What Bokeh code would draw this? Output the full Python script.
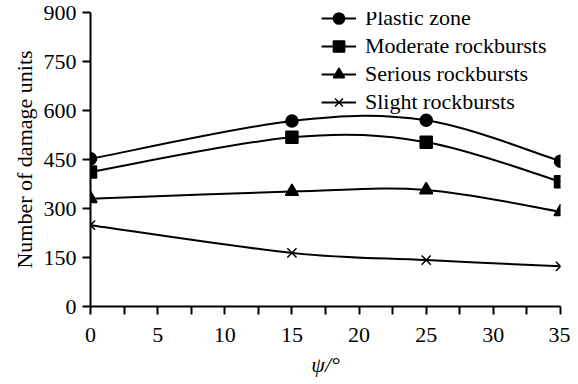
from bokeh.plotting import figure
from bokeh.models import Legend, LegendItem, ColumnDataSource, FixedTicker, Title
from bokeh.embed import file_html
from bokeh.resources import INLINE

# ---- data ----
psi = [0, 15, 25, 35]
plastic_zone = [452, 568, 570, 445]
moderate = [412, 518, 503, 382]
serious = [330, 352, 357, 290]
slight = [249, 164, 142, 123]

series_names = ["Plastic zone", "Moderate rockbursts", "Serious rockbursts", "Slight rockbursts"]
series_vals = [plastic_zone, moderate, serious, slight]
markers = ["circle", "square", "triangle", "x"]
marker_sizes = [12, 12, 13, 13]

x_ticks = [0, 5, 10, 15, 20, 25, 30, 35]
x_minor = [2.5, 7.5, 12.5, 17.5, 22.5, 27.5, 32.5]
y_ticks = [0, 150, 300, 450, 600, 750, 900]

x_title = "ψ/°"
y_title = "Number of damage units"

FONT = "Liberation Serif"
FS = "22px"


def smooth_segments(xs, ys):
    """Bezier control points (Catmull-Rom style smoothing) from the data points."""
    n = len(xs)
    d = dict(x0=[], y0=[], x1=[], y1=[], cx0=[], cy0=[], cx1=[], cy1=[])
    for i in range(n - 1):
        a = i - 1 if i > 0 else i
        b = i + 2 if i + 2 < n else i + 1
        d["x0"].append(xs[i]); d["y0"].append(ys[i])
        d["x1"].append(xs[i + 1]); d["y1"].append(ys[i + 1])
        d["cx0"].append(xs[i] + (xs[i + 1] - xs[a]) / 6)
        d["cy0"].append(ys[i] + (ys[i + 1] - ys[a]) / 6)
        d["cx1"].append(xs[i + 1] - (xs[b] - xs[i]) / 6)
        d["cy1"].append(ys[i + 1] - (ys[b] - ys[i]) / 6)
    return d


p = figure(width=570, height=387, x_range=(0, 35), y_range=(0, 900),
           output_backend="svg", toolbar_location=None, title=None,
           min_border_left=90, min_border_right=10, min_border_top=12, min_border_bottom=81)
p.outline_line_color = None
p.grid.visible = False
p.background_fill_color = "white"

items = []
for name, vals, mk, ms in zip(series_names, series_vals, markers, marker_sizes):
    seg = ColumnDataSource(smooth_segments(psi, vals))
    r_line = p.bezier(x0="x0", y0="y0", x1="x1", y1="y1", cx0="cx0", cy0="cy0",
                      cx1="cx1", cy1="cy1", source=seg, line_color="black", line_width=2)
    r_pts = p.scatter(psi, vals, marker=mk, size=ms, fill_color="black",
                      line_color="black", line_width=1.5)
    items.append(LegendItem(label=name, renderers=[r_line, r_pts]))

legend = Legend(items=items, location=(231, 190), orientation="vertical",
                border_line_color=None, background_fill_alpha=0,
                padding=4, margin=0, spacing=0, glyph_width=35, glyph_height=28,
                label_height=28, label_standoff=9,
                label_text_font=FONT, label_text_font_size=FS, label_text_color="black")
p.add_layout(legend)

for ax in (p.xaxis, p.yaxis):
    ax.axis_line_color = "black"
    ax.axis_line_width = 2
    ax.major_tick_line_color = "black"
    ax.major_tick_line_width = 2
    ax.minor_tick_line_color = "black"
    ax.minor_tick_line_width = 2
    ax.major_tick_in = 0
    ax.major_tick_out = 8
    ax.minor_tick_in = 0
    ax.major_label_text_font = FONT
    ax.major_label_text_font_size = FS
    ax.major_label_text_color = "black"
    ax.axis_label_text_font = FONT
    ax.axis_label_text_font_size = FS
    ax.axis_label_text_color = "black"
    ax.major_label_standoff = 6

p.xaxis.ticker = FixedTicker(ticks=x_ticks, minor_ticks=x_minor)
p.xaxis.minor_tick_out = 8
p.yaxis.ticker = FixedTicker(ticks=y_ticks, minor_ticks=[])
p.yaxis.minor_tick_out = 0
p.xaxis.major_label_standoff = 13

p.yaxis.axis_label = y_title
p.yaxis.axis_label_text_font_style = "normal"
p.yaxis.axis_label_standoff = 4

# x-axis title below the axis, shifted slightly right of centre as in the reference
p.add_layout(Title(text=x_title, align="center", offset=15, standoff=10,
                   text_font=FONT, text_font_size=FS, text_font_style="italic",
                   text_color="black"), "below")

open("out.html", "w").write(file_html(p, INLINE))
